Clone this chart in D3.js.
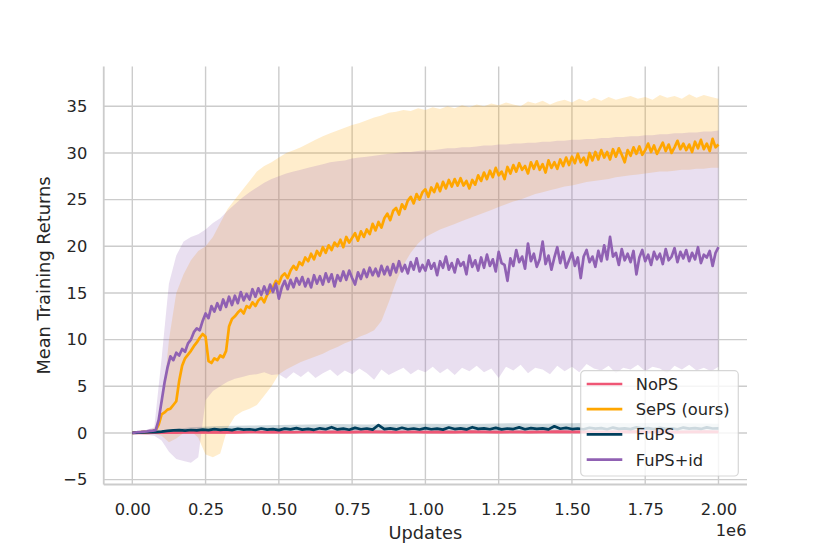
<!DOCTYPE html>
<html>
<head>
<meta charset="utf-8">
<script src="https://cdn.jsdelivr.net/npm/d3@7"></script>
<style>
  body { margin: 0; background: #fff; }
  svg { display: block; font-family: "DejaVu Sans", sans-serif; }
</style>
</head>
<body>
<script>
// values (x in updates, y = mean training return)

var seriesNames = ["NoPS", "SePS (ours)", "FuPS", "FuPS+id"];

var xTicks = [0, 250000, 500000, 750000, 1000000, 1250000, 1500000, 1750000, 2000000];
var yTicks = [-5, 0, 5, 10, 15, 20, 25, 30, 35];

// means of the two learning runs, one value every 0.01e6 updates
var sepsStep = 10000;
var sepsMean = [
  0.00, 0.05, 0.08, 0.10, 0.12, 0.10, 0.15, 0.20, 0.30, 0.90,
  2.0, 2.2, 2.5, 2.6, 3.0, 3.4, 5.6, 7.2, 8.0, 8.4,
  8.8, 9.3, 9.7, 10.2, 10.6, 10.3, 7.7, 7.5, 8.0, 7.8,
  8.3, 8.1, 8.8, 11.4, 12.2, 12.5, 12.9, 13.2, 12.8, 13.6,
  13.4, 14.0, 13.6, 14.2, 14.5, 14.0, 14.8, 15.2, 15.6, 16.3,
  16.0, 16.8, 17.1, 16.6, 17.4, 17.9, 17.5, 18.3, 18.0, 18.8,
  18.4, 19.2, 18.6, 19.5, 19.0, 19.9, 19.3, 20.1, 19.6, 20.4,
  20.0, 20.7, 19.9, 21.0, 20.4, 20.9, 21.4, 20.6, 21.6, 21.0,
  21.8, 21.3, 22.4, 21.7, 22.6, 22.0, 23.0, 23.5, 22.8, 23.8,
  24.1, 23.4, 24.5, 24.0, 24.9, 25.3, 24.6, 25.6, 25.0, 25.8,
  26.1, 25.3, 26.3, 25.8, 26.7, 25.9, 26.9, 26.2, 27.1, 26.4,
  27.2, 26.5, 27.3, 26.5, 27.0, 26.2, 27.1, 26.6, 27.6, 27.0,
  27.9, 27.2, 28.1, 27.4, 28.4, 27.6, 28.0, 27.2, 28.5, 27.8,
  28.7, 28.0, 28.9, 28.2, 28.6, 27.8, 29.0, 28.3, 29.1, 28.2,
  28.8, 27.9, 29.2, 28.4, 29.0, 28.3, 29.3, 28.6, 29.5, 28.7,
  29.6, 28.9, 29.9, 29.0, 29.5, 28.7, 30.0, 29.2, 30.1, 29.3,
  30.3, 29.5, 30.1, 29.3, 30.4, 29.6, 30.5, 29.8, 29.0, 30.3,
  29.7, 30.6, 29.9, 30.7, 29.8, 30.3, 31.0, 30.1, 30.8, 29.9,
  30.5, 31.1, 30.2, 30.9, 30.0, 30.6, 31.3, 30.4, 31.0, 30.3,
  30.9, 30.1, 31.2, 30.5, 31.4, 30.4, 31.0, 30.2, 31.5, 30.6,
  30.9
];
var fupsIdMean = [
  0.00, 0.05, 0.10, 0.12, 0.15, 0.18, 0.22, 0.25, 0.30, 1.4,
  3.4, 5.4, 7.0, 8.2, 7.8, 8.6, 8.3, 9.0, 8.7, 9.6,
  10.0, 10.8, 11.2, 11.0, 12.0, 12.8, 12.3, 13.6, 13.0, 13.9,
  13.2, 14.3, 13.5, 14.6, 13.7, 14.7, 13.9, 15.1, 14.2, 14.9,
  14.3, 15.4, 14.6, 15.5, 14.8, 15.7, 14.9, 15.9, 15.1, 16.0,
  14.4, 15.6, 16.3, 15.4, 16.4, 15.6, 16.6, 15.9, 16.7, 15.7,
  16.5, 15.6, 16.9, 16.0, 16.8, 15.9, 17.1, 16.2, 17.0, 15.7,
  16.9, 16.3, 17.3, 16.4, 17.4, 16.6, 15.9, 17.2, 16.5, 17.5,
  16.7, 17.7, 16.9, 17.6, 16.8, 17.9, 17.0, 17.8, 16.9, 18.1,
  17.2, 18.4, 17.3, 18.0, 17.1, 18.3, 17.5, 18.7, 17.3, 18.0,
  17.4, 18.5, 17.6, 18.2, 16.9, 18.4, 17.7, 18.9, 17.5, 18.2,
  17.2, 18.6, 17.9, 18.3, 17.0, 19.0, 17.8, 18.5, 17.4, 18.8,
  17.7, 19.1, 17.9, 18.6, 17.3, 19.4, 18.2, 18.0, 16.3, 18.7,
  17.9, 19.6, 18.3, 18.9, 17.6, 20.3, 18.4, 19.2, 17.8, 18.6,
  20.5, 18.1, 19.0, 17.5, 18.8, 19.9, 18.2, 19.4, 17.7, 18.5,
  19.3, 17.9, 18.8, 16.6, 18.9, 19.6, 18.3, 18.9, 17.8, 19.5,
  18.4, 20.1, 18.6, 21.0, 18.9, 19.3, 18.0, 19.7, 18.5, 19.2,
  18.3, 19.5, 17.0, 18.8, 19.6, 18.4, 19.1, 18.0, 19.4, 18.6,
  19.2, 18.1, 19.7, 18.5, 18.9, 19.8, 18.3, 19.4, 18.7, 19.6,
  18.4, 19.3, 18.6, 19.9, 18.2, 19.1, 18.8, 19.5, 17.9, 19.3,
  19.9
];

// flat runs, one value every 0.02e6 (FuPS) and 0.05e6 (NoPS)
var fupsStep = 20000;
var fupsMean = [
  0.00, 0.03, 0.05, 0.08, 0.10, 0.15, 0.22, 0.28, 0.30, 0.26,
  0.32, 0.28, 0.36, 0.30, 0.42, 0.33, 0.38, 0.30, 0.45, 0.35,
  0.40, 0.32, 0.48, 0.36, 0.42, 0.30, 0.46, 0.38, 0.52, 0.36,
  0.44, 0.34, 0.50, 0.40, 0.62, 0.38, 0.46, 0.35, 0.55, 0.40,
  0.48, 0.36, 0.85, 0.42, 0.50, 0.38, 0.56, 0.40, 0.48, 0.37,
  0.52, 0.40, 0.46, 0.36, 0.58, 0.42, 0.50, 0.38, 0.62, 0.44,
  0.50, 0.40, 0.55, 0.38, 0.48, 0.42, 0.60, 0.40, 0.52, 0.44,
  0.50, 0.38, 0.72, 0.45, 0.55, 0.42, 0.48, 0.40, 0.56, 0.46,
  0.52, 0.40, 0.58, 0.44, 0.50, 0.41, 0.60, 0.46, 0.52, 0.42,
  0.56, 0.44, 0.50, 0.40, 0.58, 0.46, 0.52, 0.43, 0.60, 0.48,
  0.50
];
var nopsStep = 50000;
var nopsMean = [
  0.00, 0.02, 0.05, 0.04, 0.08, 0.06, 0.10, 0.07, 0.12, 0.09,
  0.11, 0.08, 0.13, 0.10, 0.12, 0.09, 0.14, 0.11, 0.10, 0.13,
  0.09, 0.12, 0.10, 0.14, 0.11, 0.09, 0.13, 0.10, 0.12, 0.15,
  0.11, 0.13, 0.10, 0.12, 0.14, 0.11, 0.13, 0.10, 0.12, 0.14,
  0.12
];

// shaded bands, one value every 0.025e6
var bandStep = 25000;
var sepsHi = [
  0.10, 0.20, 0.30, 0.50, 2.0, 10.0, 15.0, 17.0, 18.5, 19.5,
  20.0, 21.0, 22.5, 24.0, 25.0, 26.0, 27.0, 28.0, 28.6, 29.0,
  29.5, 30.0, 30.3, 30.6, 31.0, 31.4, 31.8, 32.1, 32.4, 32.7,
  33.0, 33.2, 33.5, 33.8, 34.0, 34.3, 34.4, 34.6, 34.5, 34.8,
  34.6, 34.9, 34.7, 35.0, 34.8, 35.1, 34.9, 35.2, 35.0, 35.3,
  35.1, 35.4, 35.2, 35.0, 35.5, 35.3, 35.6, 35.2, 35.5, 35.7,
  35.4, 35.8, 35.5, 35.9, 35.6, 36.0, 35.7, 35.9, 36.1, 35.8,
  36.0, 35.7, 36.2, 35.9, 36.1, 35.8, 36.3, 35.9, 36.2, 36.0,
  35.8
];
var sepsLo = [
  0.00, -0.05, -0.10, -0.10, -0.3, -1.0, -0.6, 0.0, 0.2, -0.5,
  -2.3, -2.6, -2.2, 0.5, 1.8, 2.3, 2.6, 3.0, 4.0, 5.0,
  6.3, 6.8, 7.2, 7.6, 7.9, 8.2, 8.5, 8.9, 9.2, 9.6,
  9.9, 10.3, 10.6, 11.0, 12.0, 14.0, 16.2, 18.0, 19.3, 20.3,
  21.0, 21.4, 21.8, 22.1, 22.4, 22.7, 23.0, 23.3, 23.6, 23.9,
  24.2, 24.5, 24.8, 25.0, 25.3, 25.6, 25.8, 26.0, 26.2, 26.4,
  26.5, 26.7, 26.9, 27.0, 27.1, 27.2, 27.4, 27.5, 27.6, 27.7,
  27.8, 27.9, 28.0, 28.0, 28.1, 28.2, 28.2, 28.3, 28.3, 28.4,
  28.4
];
var fupsIdHi = [
  0.10, 0.20, 0.35, 0.60, 8.0, 16.0, 19.0, 20.5, 21.0, 21.3,
  21.8, 22.5, 23.0, 23.8, 24.5, 25.2, 25.8, 26.3, 26.8, 27.2,
  27.5, 27.8, 28.0, 28.2, 28.4, 28.6, 28.8, 29.0, 29.1, 29.2,
  29.4, 29.5, 29.6, 29.7, 29.8, 29.9, 30.0, 30.1, 30.1, 30.2,
  30.3, 30.3, 30.4, 30.5, 30.5, 30.6, 30.6, 30.7, 30.8, 30.8,
  30.9, 30.9, 31.0, 31.0, 31.1, 31.1, 31.2, 31.2, 31.3, 31.3,
  31.4, 31.4, 31.5, 31.5, 31.6, 31.6, 31.7, 31.7, 31.8, 31.8,
  31.9, 31.9, 32.0, 32.0, 32.1, 32.1, 32.2, 32.2, 32.3, 32.3,
  32.4
];
var fupsIdLo = [
  0.00, -0.10, -0.20, -0.30, -0.8, -2.0, -2.8, -3.0, -3.2, -2.6,
  3.5, 4.5, 5.0, 5.5, 5.8, 6.0, 6.2, 6.3, 6.5, 6.2,
  6.3, 5.8, 6.5, 6.0, 6.6, 5.9, 6.4, 6.8, 6.1, 6.7,
  6.3, 6.9, 6.4, 5.7, 6.8, 6.2, 6.6, 7.0, 6.3, 6.8,
  6.5, 7.1, 6.4, 6.9, 6.2, 7.0, 6.6, 7.2, 6.5, 6.9,
  5.9, 7.1, 6.7, 7.3, 6.4, 7.0, 6.8, 6.3, 7.2, 6.6,
  7.1, 6.5, 7.4, 6.9, 6.7, 7.2, 6.4, 7.0, 6.8, 7.3,
  6.6, 7.1, 6.9, 6.4, 7.2, 6.8, 7.3, 6.7, 7.0, 6.6,
  7.1
];
// thin bands of the flat runs, one value every 0.1e6
var flatStep = 100000;
var fupsHi = [0.00, 0.25, 0.60, 0.75, 0.80, 0.85, 0.90, 0.95, 0.90, 0.95, 1.00,
              0.95, 1.00, 1.05, 1.00, 1.05, 1.10, 1.05, 1.10, 1.05, 1.00];
var fupsLo = [0.00, -0.05, 0.00, 0.05, 0.05, 0.05, 0.00, 0.05, 0.05, 0.00, 0.05,
              0.05, 0.00, 0.05, 0.05, 0.00, 0.05, 0.05, 0.00, 0.05, 0.05];
var nopsHi = [0.00, 0.15, 0.22, 0.25, 0.28, 0.26, 0.30, 0.28, 0.30, 0.27, 0.30,
              0.29, 0.31, 0.28, 0.30, 0.32, 0.29, 0.31, 0.30, 0.32, 0.30];
var nopsLo = [0.00, -0.05, -0.08, -0.10, -0.08, -0.10, -0.09, -0.10, -0.08, -0.10, -0.09,
              -0.10, -0.08, -0.10, -0.09, -0.10, -0.08, -0.09, -0.10, -0.08, -0.09];

var colors = ["#ef5675", "#ffa600", "#003f5c", "#9061b3"];

var W = 830, H = 554;
var margin = {left: 103.75, right: 83, top: 66.5, bottom: 69.5};

var x = d3.scaleLinear().domain([-100000, 2100000]).range([103, 747.8]);
var y = d3.scaleLinear().domain([-5.52, 39.26]).range([H - margin.bottom, margin.top]);
var x0 = margin.left, x1 = W - margin.right, yB = H - margin.bottom, yT = margin.top;

function pts(arr, step) {
  return arr.map(function(v, i) { return {t: i * step, v: v}; });
}
function bandPts(lo, hi, step) {
  return lo.map(function(v, i) { return {t: i * step, lo: v, hi: hi[i]}; });
}

var svg = d3.select("body").append("svg").attr("width", W).attr("height", H);

// grid
var grid = svg.append("g").attr("stroke", "#cccccc").attr("stroke-width", 1.4);
grid.selectAll(".gx").data(xTicks).enter().append("line")
  .attr("x1", function(d) { return x(d); }).attr("x2", function(d) { return x(d); })
  .attr("y1", yT).attr("y2", yB);
grid.selectAll(".gy").data(yTicks).enter().append("line")
  .attr("y1", function(d) { return y(d); }).attr("y2", function(d) { return y(d); })
  .attr("x1", x0).attr("x2", x1);

// spines (left and bottom only)
svg.append("line").attr("x1", x0).attr("x2", x0).attr("y1", yT).attr("y2", yB)
  .attr("stroke", "#cccccc").attr("stroke-width", 1.8);
svg.append("line").attr("x1", x0).attr("x2", x1).attr("y1", yB).attr("y2", yB)
  .attr("stroke", "#cccccc").attr("stroke-width", 1.8);

// bands
var area = d3.area()
  .x(function(d) { return x(d.t); })
  .y0(function(d) { return y(d.lo); })
  .y1(function(d) { return y(d.hi); });

var bands = [
  bandPts(nopsLo, nopsHi, flatStep),
  bandPts(sepsLo, sepsHi, bandStep),
  bandPts(fupsLo, fupsHi, flatStep),
  bandPts(fupsIdLo, fupsIdHi, bandStep)
];
svg.append("g").selectAll("path").data(bands).enter().append("path")
  .attr("d", area)
  .attr("fill", function(d, i) { return colors[i]; })
  .attr("fill-opacity", 0.2)
  .attr("stroke", "none");

// mean lines
var line = d3.line()
  .x(function(d) { return x(d.t); })
  .y(function(d) { return y(d.v); });

var lines = [
  pts(nopsMean, nopsStep),
  pts(sepsMean, sepsStep),
  pts(fupsMean, fupsStep),
  pts(fupsIdMean, sepsStep)
];
svg.append("g").selectAll("path").data(lines).enter().append("path")
  .attr("d", line)
  .attr("fill", "none")
  .attr("stroke", function(d, i) { return colors[i]; })
  .attr("stroke-width", 2.7)
  .attr("stroke-linejoin", "round");

// axes: labels only
var xAxis = d3.axisBottom(x).tickValues(xTicks).tickSize(0).tickPadding(19)
  .tickFormat(function(d) { return d3.format(".2f")(d / 1e6); });
var yAxis = d3.axisLeft(y).tickValues(yTicks).tickSize(0).tickPadding(16.5)
  .tickFormat(d3.format("d"));

var gx = svg.append("g").attr("transform", "translate(0," + yB + ")").call(xAxis);
var gy = svg.append("g").attr("transform", "translate(" + x0 + ",0)").call(yAxis);
[gx, gy].forEach(function(g) {
  g.select(".domain").remove();
  g.selectAll("text").attr("fill", "#262626").style("font-size", "16.3px")
    .style("font-family", "'DejaVu Sans', sans-serif");
});

svg.append("text").attr("x", 746.5).attr("y", 536).attr("text-anchor", "end")
  .attr("fill", "#262626").style("font-size", "16.3px").text("1e6");

svg.append("text").attr("x", (x0 + x1) / 2).attr("y", 539).attr("text-anchor", "middle")
  .attr("fill", "#262626").style("font-size", "17.8px").text("Updates");

svg.append("text").attr("transform", "translate(49.5," + ((yT + yB) / 2) + ") rotate(-90)")
  .attr("text-anchor", "middle").attr("fill", "#262626").style("font-size", "17.8px")
  .text("Mean Training Returns");

// legend
var leg = svg.append("g").attr("transform", "translate(580.7,370.7)");
leg.append("rect").attr("width", 157.6).attr("height", 105.3).attr("rx", 4)
  .attr("fill", "#ffffff").attr("fill-opacity", 0.8)
  .attr("stroke", "#cccccc").attr("stroke-opacity", 0.8).attr("stroke-width", 1.2);
var rows = leg.selectAll(".row").data(seriesNames).enter().append("g")
  .attr("transform", function(d, i) { return "translate(0," + (13.3 + i * 25.2) + ")"; });
rows.append("line").attr("x1", 6).attr("x2", 41.6)
  .attr("stroke", function(d, i) { return colors[i]; }).attr("stroke-width", 2.7);
rows.append("text").attr("x", 55).attr("y", 6).attr("fill", "#262626")
  .style("font-size", "16.3px").text(function(d) { return d; });
</script>
</body>
</html>
